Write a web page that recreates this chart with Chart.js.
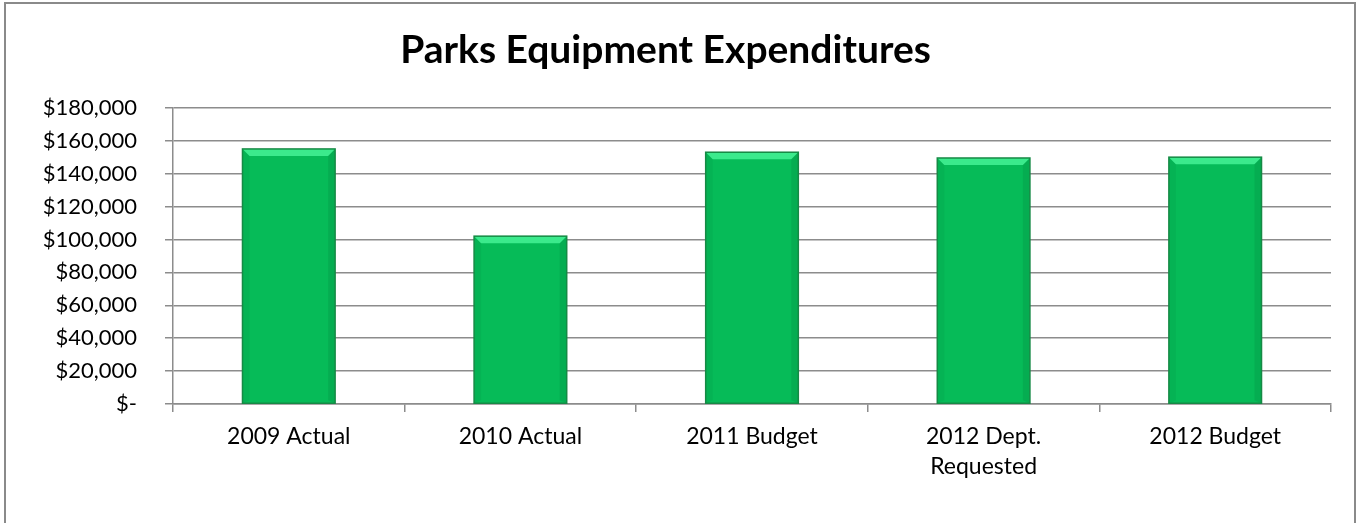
<!DOCTYPE html>
<html>
<head>
<meta charset="utf-8">
<script src="https://cdn.jsdelivr.net/npm/chart.js@4"></script>
<style>
  html, body { margin: 0; padding: 0; background: #fff; }
  #wrap { position: relative; width: 1358px; height: 523px; overflow: hidden; }
  #frame { position: absolute; left: 4px; top: 2px; width: 1352px; height: 540px; border: 2px solid #8a8a8a; box-sizing: border-box; }
  canvas { position: absolute; left: 0; top: 0; }
</style>
</head>
<body>
<div id="wrap">
  <div id="frame"></div>
  <canvas id="chart" width="1358" height="523"></canvas>
</div>
<script>
var categories = ['2009 Actual', '2010 Actual', '2011 Budget', ['2012 Dept.', 'Requested'], '2012 Budget'];
var expenditures = [155000, 102000, 153000, 149500, 150000];
var yTicks = [0, 20000, 40000, 60000, 80000, 100000, 120000, 140000, 160000, 180000];

function money(v) {
    if (v === 0) return '$-';
    return '$' + v.toLocaleString('en-US');
}

// bevel on top of each bar, like the excel look
var bevelPlugin = {
    id: 'bevel',
    afterDatasetsDraw: function(chart) {
        var ctx = chart.ctx;
        chart.getDatasetMeta(0).data.forEach(function(bar) {
            var l = bar.x - bar.width / 2, r = bar.x + bar.width / 2;
            var t = bar.y, b = bar.base, d = 7;
            ctx.save();
            ctx.fillStyle = '#3bea8c';
            ctx.beginPath();
            ctx.moveTo(l, t); ctx.lineTo(r, t); ctx.lineTo(r - d, t + d); ctx.lineTo(l + d, t + d);
            ctx.closePath(); ctx.fill();
            ctx.fillStyle = 'rgba(0,90,40,0.14)';
            ctx.beginPath();
            ctx.moveTo(r, t); ctx.lineTo(r, b); ctx.lineTo(r - d, b - 3); ctx.lineTo(r - d, t + d);
            ctx.closePath(); ctx.fill();
            ctx.fillStyle = 'rgba(0,90,40,0.08)';
            ctx.beginPath();
            ctx.moveTo(l, t); ctx.lineTo(l + d, t + d); ctx.lineTo(l + d, b - 3); ctx.lineTo(l, b);
            ctx.closePath(); ctx.fill();
            ctx.strokeStyle = '#168a45';
            ctx.lineWidth = 1.5;
            ctx.strokeRect(l, t, r - l, b - t);
            ctx.restore();
        });
    }
};

var ctx = document.getElementById('chart').getContext('2d');
var chart = new Chart(ctx, {
    type: 'bar',
    data: {
        labels: categories,
        datasets: [{
            data: expenditures,
            backgroundColor: '#06bb58',
            borderWidth: 0,
            categoryPercentage: 1.0,
            barPercentage: 0.4
        }]
    },
    options: {
        responsive: false,
        animation: false,
        layout: { padding: { left: 0, right: 27, top: 0, bottom: 0 } },
        plugins: {
            legend: { display: false },
            tooltip: { enabled: false },
            title: {
                display: true,
                text: 'Parks Equipment Expenditures',
                color: '#000',
                font: { family: 'Lato', size: 39, weight: 'bold', lineHeight: 1.2 },
                padding: { top: 27, bottom: 34 }
            }
        },
        scales: {
            x: {
                offset: true,
                grid: { offset: true, drawOnChartArea: false, drawTicks: true, tickLength: 8, color: '#8c8c8c', lineWidth: 1.5 },
                border: { display: true, color: '#8c8c8c', width: 1.5 },
                ticks: { color: '#000', font: { family: 'Lato', size: 23, lineHeight: 1.3 }, padding: 10, maxRotation: 0 },
                afterFit: function(scale) { scale.height = 119; }
            },
            y: {
                min: 0,
                max: 180000,
                afterBuildTicks: function(scale) {
                    scale.ticks = yTicks.map(function(v) { return { value: v }; });
                },
                grid: { color: '#8c8c8c', lineWidth: 1.5, tickLength: 8 },
                border: { display: true, color: '#8c8c8c', width: 1.5 },
                ticks: {
                    color: '#000',
                    font: { family: 'Lato', size: 22 },
                    padding: 28,
                    callback: function(v) { return money(v); }
                },
                afterFit: function(scale) { scale.width = 173; }
            }
        }
    },
    plugins: [bevelPlugin]
});
</script>
</body>
</html>
